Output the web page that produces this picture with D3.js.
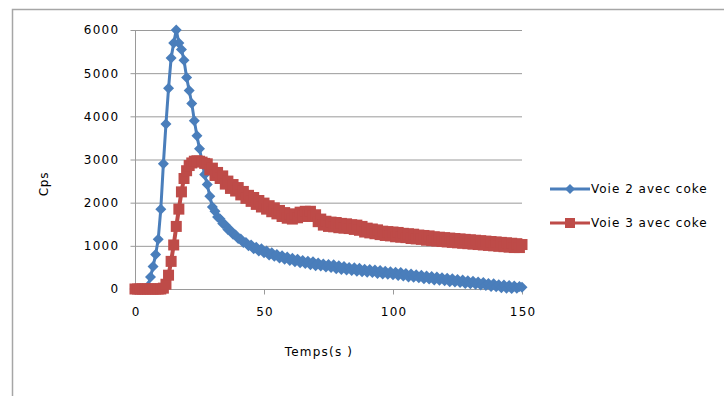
<!DOCTYPE html>
<html>
<head>
<meta charset="utf-8">
<script src="https://cdn.jsdelivr.net/npm/d3@7"></script>
<style>
  body { margin: 0; background: #fff; }
  text { font-family: "DejaVu Sans", sans-serif; fill: #000; }
</style>
</head>
<body>
<figure id="chart" style="margin:0"></figure>
<script>
// time in seconds = index in the arrays (one sample per second, 0..150)
const voie2 = [
  0, 0, 0, 0, 0, 60, 280, 520, 800, 1150,
  1850, 2900, 3820, 4650, 5350, 5700, 6000, 5700, 5550, 5300,
  4900, 4600, 4300, 3900, 3550, 3250, 2950, 2650, 2420, 2150,
  1900, 1800, 1670, 1620, 1520, 1480, 1380, 1360, 1270, 1250,
  1170, 1160, 1080, 1080, 1000, 1020, 930, 970, 880, 930,
  840, 880, 790, 840, 760, 800, 720, 770, 690, 740,
  660, 710, 630, 690, 610, 660, 590, 640, 560, 630,
  540, 600, 530, 580, 510, 570, 500, 560, 470, 540,
  450, 520, 440, 500, 430, 490, 410, 480, 400, 460,
  390, 450, 380, 440, 360, 430, 350, 410, 340, 400,
  330, 390, 310, 380, 300, 360, 280, 350, 270, 330,
  260, 320, 240, 300, 230, 290, 210, 280, 200, 260,
  190, 250, 170, 240, 160, 220, 150, 210, 130, 190,
  120, 180, 110, 160, 90, 150, 80, 130, 60, 120,
  50, 100, 30, 90, 20, 80, 10, 70, 20, 60,
  40
];
const voie3 = [
  0, 0, 0, 0, 0, 0, 0, 0, 0, 0,
  0, 20, 110, 320, 640, 1020, 1450, 1850, 2250, 2560,
  2740, 2860, 2920, 2960, 2970, 2960, 2940, 2910, 2900, 2760,
  2800, 2630, 2700, 2560, 2620, 2430, 2500, 2330, 2420, 2270,
  2350, 2180, 2260, 2100, 2170, 2030, 2120, 1960, 2050, 1900,
  1990, 1850, 1930, 1790, 1880, 1740, 1820, 1680, 1770, 1640,
  1740, 1620, 1730, 1650, 1780, 1680, 1800, 1720, 1800, 1680,
  1720, 1560, 1620, 1480, 1570, 1450, 1550, 1440, 1540, 1420,
  1520, 1410, 1510, 1400, 1490, 1380, 1480, 1360, 1450, 1320,
  1410, 1300, 1390, 1280, 1370, 1260, 1340, 1240, 1330, 1230,
  1320, 1210, 1310, 1200, 1290, 1190, 1280, 1170, 1270, 1160,
  1250, 1150, 1240, 1130, 1230, 1120, 1210, 1110, 1200, 1100,
  1190, 1090, 1180, 1080, 1170, 1070, 1160, 1060, 1150, 1050,
  1140, 1040, 1130, 1030, 1120, 1020, 1110, 1010, 1100, 1000,
  1090, 990, 1080, 980, 1070, 970, 1060, 960, 1050, 960,
  1030
];
const seriesNames = ["Voie 2 avec coke", "Voie 3 avec coke"];
const xTicks = [0, 50, 100, 150];
const yTicks = [0, 1000, 2000, 3000, 4000, 5000, 6000];

const blue = "#4a7ebb";
const red = "#be4b48";
const grid = "#9a9a9a";

const svg = d3.select("figure#chart")
  .append("svg")
  .attr("width", 724)
  .attr("height", 396);

// outer chart frame
svg.append("rect")
  .attr("x", 12.5).attr("y", 9.5)
  .attr("width", 800).attr("height", 500)
  .attr("fill", "none")
  .attr("stroke", "#a6a6a6")
  .attr("stroke-width", 1.5);

const x = d3.scaleLinear().domain([0, 150]).range([135, 522]);
const y = d3.scaleLinear().domain([0, 6000]).range([289, 30]);

// horizontal gridlines
svg.append("g")
  .selectAll("line")
  .data(yTicks.slice(1))
  .enter()
  .append("line")
  .attr("x1", x(0)).attr("x2", x(150))
  .attr("y1", d => y(d) + 0.5).attr("y2", d => y(d) + 0.5)
  .attr("stroke", grid);

const xAxis = svg.append("g")
  .attr("transform", "translate(0," + (y(0) + 0.5) + ")")
  .call(d3.axisBottom(x).tickValues(xTicks).tickFormat(d3.format("d")).tickSize(5).tickPadding(13));

const yAxis = svg.append("g")
  .attr("transform", "translate(" + (x(0) + 0.5) + ",0)")
  .call(d3.axisLeft(y).tickValues(yTicks).tickFormat(d3.format("d")).tickSize(5).tickPadding(11));

[xAxis, yAxis].forEach(a => {
  a.selectAll("path, line").attr("stroke", grid);
  a.selectAll("text")
    .style("font-family", "DejaVu Sans")
    .style("font-size", "12px")
    .style("letter-spacing", "1.3px")
    .attr("fill", "#000");
});
xAxis.selectAll("text").attr("dx", "0.6px");
xAxis.select(".domain").attr("d", "M" + x(0) + ",0H" + x(150));
yAxis.select(".domain").attr("d", "M0," + y(6000) + "V" + y(0));

const line = d3.line()
  .x((d, i) => x(i))
  .y(d => y(d));

svg.append("path")
  .datum(voie2)
  .attr("d", line)
  .attr("fill", "none")
  .attr("stroke", blue)
  .attr("stroke-width", 3);

svg.append("g")
  .selectAll("path")
  .data(voie2)
  .enter()
  .append("path")
  .attr("transform", (d, i) => "translate(" + x(i) + "," + y(d) + ")")
  .attr("d", "M0,-5.5L5.5,0L0,5.5L-5.5,0Z")
  .attr("fill", blue);

svg.append("path")
  .datum(voie3)
  .attr("d", line)
  .attr("fill", "none")
  .attr("stroke", red)
  .attr("stroke-width", 4);

svg.append("g")
  .selectAll("rect")
  .data(voie3)
  .enter()
  .append("rect")
  .attr("x", (d, i) => x(i) - 5.5)
  .attr("y", d => y(d) - 5.5)
  .attr("width", 11)
  .attr("height", 11)
  .attr("fill", red);

// axis titles
svg.append("text")
  .attr("transform", "translate(48,184) rotate(-90)")
  .attr("text-anchor", "middle")
  .style("font-size", "12px")
  .style("letter-spacing", "0.8px")
  .text("Cps");

svg.append("text")
  .attr("x", 319).attr("y", 356)
  .attr("text-anchor", "middle")
  .style("font-size", "12px")
  .style("letter-spacing", "1.2px")
  .text("Temps(s )");

// legend
const legend = svg.append("g");
const colors = [blue, red];
seriesNames.forEach((name, k) => {
  const ly = 189 + k * 34;
  legend.append("line")
    .attr("x1", 550).attr("x2", 590)
    .attr("y1", ly).attr("y2", ly)
    .attr("stroke", colors[k]).attr("stroke-width", 3);
  if (k === 0) {
    legend.append("path")
      .attr("transform", "translate(570," + ly + ")")
      .attr("d", "M0,-5L5,0L0,5L-5,0Z")
      .attr("fill", blue);
  } else {
    legend.append("rect")
      .attr("x", 565).attr("y", ly - 5)
      .attr("width", 10).attr("height", 10)
      .attr("fill", red);
  }
  legend.append("text")
    .attr("x", 591).attr("y", ly + 4)
    .style("font-size", "12px")
    .style("letter-spacing", "1px")
    .text(name);
});
</script>
</body>
</html>
